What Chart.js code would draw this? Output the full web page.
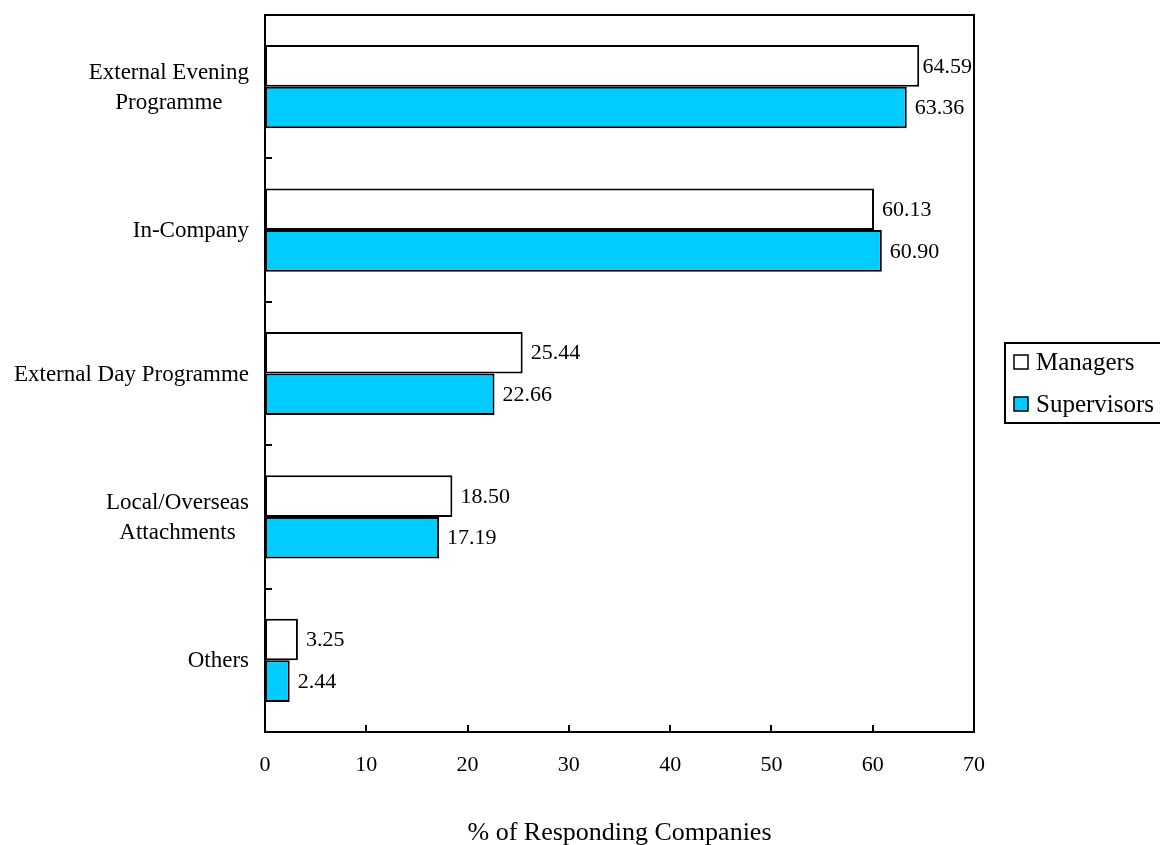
<!DOCTYPE html>
<html>
<head>
<meta charset="utf-8">
<script src="https://cdn.jsdelivr.net/npm/chart.js@4/dist/chart.umd.min.js"></script>
<style>
  html, body { margin: 0; padding: 0; background: #ffffff; }
  #wrap { width: 1160px; height: 845px; }
</style>
</head>
<body>
<div id="wrap"><canvas id="chart" width="1160" height="845"></canvas></div>
<script>
// Training programme types (rows), top to bottom
const categories = [
  ['External Evening', 'Programme'],
  'In-Company',
  'External Day Programme',
  ['Local/Overseas', 'Attachments'],
  'Others'
];
// % of responding companies
const managers = [64.59, 60.13, 25.44, 18.50, 3.25];
const supervisors = [63.36, 60.90, 22.66, 17.19, 2.44];
const seriesNames = ['Managers', 'Supervisors'];
const xTickValues = [0, 10, 20, 30, 40, 50, 60, 70];
const axisTitle = '% of Responding Companies';

const FONT = '"Liberation Serif", "Times New Roman", serif';

const decorations = {
  id: 'decorations',
  afterDraw(chart) {
    const ctx = chart.ctx;
    const area = chart.chartArea;
    const xs = chart.scales.x;
    const ys = chart.scales.y;
    ctx.save();

    // plot frame
    ctx.strokeStyle = '#000';
    ctx.lineWidth = 2;
    ctx.strokeRect(area.left, area.top, area.right - area.left, area.bottom - area.top);

    // inward tick marks between categories
    ctx.lineWidth = 2;
    for (let i = 1; i < categories.length; i++) {
      const y = Math.round((ys.getPixelForValue(i - 1) + ys.getPixelForValue(i)) / 2);
      ctx.beginPath();
      ctx.moveTo(area.left, y);
      ctx.lineTo(area.left + 7, y);
      ctx.stroke();
    }
    // inward tick marks on the value axis
    xTickValues.forEach(v => {
      const x = Math.round(xs.getPixelForValue(v));
      ctx.beginPath();
      ctx.moveTo(x, area.bottom);
      ctx.lineTo(x, area.bottom - 7);
      ctx.stroke();
    });

    ctx.fillStyle = '#000';

    // value axis labels
    ctx.font = '22px ' + FONT;
    ctx.textAlign = 'center';
    ctx.textBaseline = 'middle';
    xTickValues.forEach(v => {
      ctx.fillText(String(v), xs.getPixelForValue(v), 765);
    });

    // category labels, multi-line ones centred on their widest line
    ctx.font = '23px ' + FONT;
    const labelRight = area.left - 16;
    categories.forEach((lab, i) => {
      const lines = Array.isArray(lab) ? lab : [lab];
      const w = Math.max(...lines.map(l => ctx.measureText(l).width));
      const cx = labelRight - w / 2;
      const cy = ys.getPixelForValue(i) + 1;
      const lh = 30;
      lines.forEach((l, j) => {
        ctx.fillText(l, cx, cy + (j - (lines.length - 1) / 2) * lh);
      });
    });

    // value labels at the bar ends
    ctx.font = '22px ' + FONT;
    ctx.textAlign = 'left';
    chart.data.datasets.forEach((ds, di) => {
      const meta = chart.getDatasetMeta(di);
      meta.data.forEach((el, i) => {
        const txt = ds.data[i].toFixed(2);
        const w = ctx.measureText(txt).width;
        let x = el.x + 8;
        if (x + w > area.right - 2) x = area.right - 2 - w;
        ctx.fillText(txt, x, el.y + 1);
      });
    });

    // axis title
    ctx.font = '26px ' + FONT;
    ctx.textAlign = 'center';
    ctx.fillText(axisTitle, (area.left + area.right) / 2, 833);

    // legend
    const lx = 1005, ly = 343, lw = 200, lh = 80;
    ctx.lineWidth = 2;
    ctx.strokeRect(lx, ly, lw, lh);
    ctx.font = '25px ' + FONT;
    ctx.textAlign = 'left';
    chart.data.datasets.forEach((ds, di) => {
      const cy = 362 + di * 42;
      ctx.fillStyle = ds.backgroundColor;
      ctx.fillRect(1014, cy - 7, 14, 14);
      ctx.lineWidth = 1.5;
      ctx.strokeStyle = '#000';
      ctx.strokeRect(1014, cy - 7, 14, 14);
      ctx.fillStyle = '#000';
      ctx.fillText(ds.label, 1036, cy + 1);
    });

    ctx.restore();
  }
};

new Chart(document.getElementById('chart'), {
  type: 'bar',
  data: {
    labels: categories,
    datasets: [
      {
        label: seriesNames[0],
        data: managers,
        backgroundColor: '#ffffff',
        borderColor: '#000000',
        borderWidth: 2,
        borderSkipped: false
      },
      {
        label: seriesNames[1],
        data: supervisors,
        backgroundColor: '#00ccff',
        borderColor: '#000000',
        borderWidth: 2,
        borderSkipped: false
      }
    ]
  },
  options: {
    indexAxis: 'y',
    responsive: false,
    animation: false,
    events: [],
    layout: { padding: { top: 15, right: 186, left: 0, bottom: 0 } },
    datasets: { bar: { categoryPercentage: 0.58, barPercentage: 1.0 } },
    plugins: {
      legend: { display: false },
      tooltip: { enabled: false },
      title: { display: false }
    },
    scales: {
      x: {
        type: 'linear',
        min: 0,
        max: 70,
        ticks: { display: false, stepSize: 10 },
        grid: { display: false },
        border: { display: false },
        afterFit(scale) { scale.height = 113; }
      },
      y: {
        type: 'category',
        ticks: { display: false },
        grid: { display: false },
        border: { display: false },
        afterFit(scale) { scale.width = 265; }
      }
    }
  },
  plugins: [decorations]
});
</script>
</body>
</html>
